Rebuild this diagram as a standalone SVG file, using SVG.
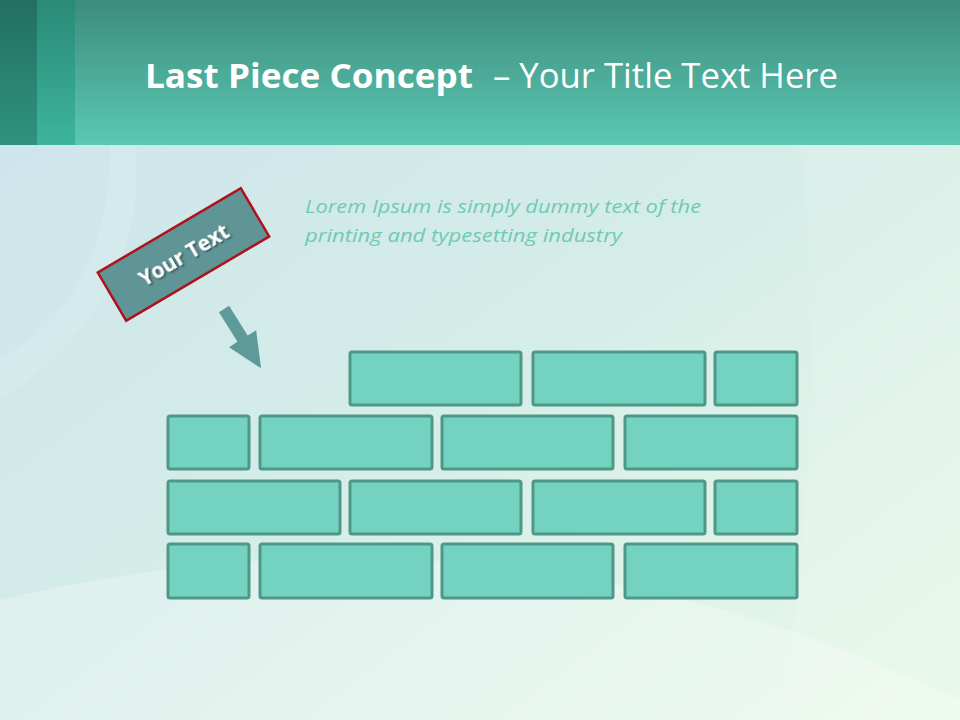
<svg xmlns="http://www.w3.org/2000/svg" width="960" height="720" viewBox="0 0 960 720">
<defs>
<linearGradient id="bg" x1="0" y1="0" x2="1" y2="1">
<stop offset="0" stop-color="#cce3ec"/>
<stop offset="0.5" stop-color="#d5ede8"/>
<stop offset="1" stop-color="#e8f8ea"/>
</linearGradient>
<linearGradient id="hdr" x1="0" y1="0" x2="0" y2="1">
<stop offset="0" stop-color="#3d8c7c"/>
<stop offset="1" stop-color="#5bc8b2"/>
</linearGradient>
<linearGradient id="s1" x1="0" y1="0" x2="0" y2="1">
<stop offset="0" stop-color="#226f60"/>
<stop offset="1" stop-color="#2f937d"/>
</linearGradient>
<linearGradient id="s2" x1="0" y1="0" x2="0" y2="1">
<stop offset="0" stop-color="#2a8a76"/>
<stop offset="1" stop-color="#3db49c"/>
</linearGradient>
<filter id="sh" x="-20%" y="-20%" width="140%" height="140%">
<feDropShadow dx="1" dy="1.5" stdDeviation="1" flood-color="#000" flood-opacity="0.6"/>
</filter>
</defs>
<style>
.brick{fill:#74d3c0;stroke:#4f9787;stroke-width:3}
.t{font-family:"Open Sans","Liberation Sans",sans-serif}
</style>
<rect width="960" height="720" fill="url(#bg)"/>
<g fill="#ffffff">
<path d="M0,300 Q200,170 140,145 L0,145 Z" fill-opacity="0.0"/>
<path d="M0,600 Q500,480 960,700 L960,720 L0,720 Z" fill-opacity="0.25"/>
<path d="M0,400 Q150,300 135,145 L110,145 Q110,300 0,360 Z" fill-opacity="0.12"/>
<path d="M800,145 Q830,400 780,720 L960,720 L960,145 Z" fill-opacity="0.1"/>
</g>
<g id="header">
<rect x="0" y="0" width="960" height="145" fill="url(#hdr)"/>
<rect x="0" y="0" width="37" height="145" fill="url(#s1)"/>
<rect x="37" y="0" width="38" height="145" fill="url(#s2)"/>
<text class="t" x="145" y="88" font-size="34" fill="#ffffff"><tspan font-weight="bold" textLength="328" lengthAdjust="spacingAndGlyphs">Last Piece Concept</tspan><tspan x="493" textLength="345" lengthAdjust="spacingAndGlyphs">– Your Title Text Here</tspan></text>
</g>
<g id="desc">
<text class="t" font-style="italic" font-size="18" fill="#6fcab2">
<tspan x="305" y="213" textLength="396" lengthAdjust="spacingAndGlyphs">Lorem Ipsum is simply dummy text of the</tspan>
<tspan x="305" y="242" textLength="317" lengthAdjust="spacingAndGlyphs">printing and typesetting industry</tspan>
</text>
</g>
<g id="label" transform="translate(183.5,254.5) rotate(-30.5)">
<rect x="-83" y="-28" width="166" height="56" fill="#5f9597" stroke="#b0121b" stroke-width="2.5"/>
<text class="t" x="0" y="8" font-size="21" font-weight="bold" fill="#ffffff" text-anchor="middle" filter="url(#sh)">Your Text</text>
</g>
<g id="connectors">
<path transform="translate(224,309) rotate(58)" d="M0,-6 L35,-6 L35,-16 L70,0 L35,16 L35,6 L0,6 Z" fill="#5f9a9a"/>
</g>
<g id="bricks">
<rect id="b1" class="brick" x="350" y="352" width="171" height="53" rx="2"/>
<rect id="b2" class="brick" x="533" y="352" width="172" height="53" rx="2"/>
<rect id="b3" class="brick" x="715" y="352" width="82" height="53" rx="2"/>
<rect id="b4" class="brick" x="168" y="416" width="81" height="53" rx="2"/>
<rect id="b5" class="brick" x="260" y="416" width="172" height="53" rx="2"/>
<rect id="b6" class="brick" x="442" y="416" width="171" height="53" rx="2"/>
<rect id="b7" class="brick" x="625" y="416" width="172" height="53" rx="2"/>
<rect id="b8" class="brick" x="168" y="481" width="172" height="53" rx="2"/>
<rect id="b9" class="brick" x="350" y="481" width="171" height="53" rx="2"/>
<rect id="b10" class="brick" x="533" y="481" width="172" height="53" rx="2"/>
<rect id="b11" class="brick" x="715" y="481" width="82" height="53" rx="2"/>
<rect id="b12" class="brick" x="168" y="544" width="81" height="54" rx="2"/>
<rect id="b13" class="brick" x="260" y="544" width="172" height="54" rx="2"/>
<rect id="b14" class="brick" x="442" y="544" width="171" height="54" rx="2"/>
<rect id="b15" class="brick" x="625" y="544" width="172" height="54" rx="2"/>
</g>
</svg>
